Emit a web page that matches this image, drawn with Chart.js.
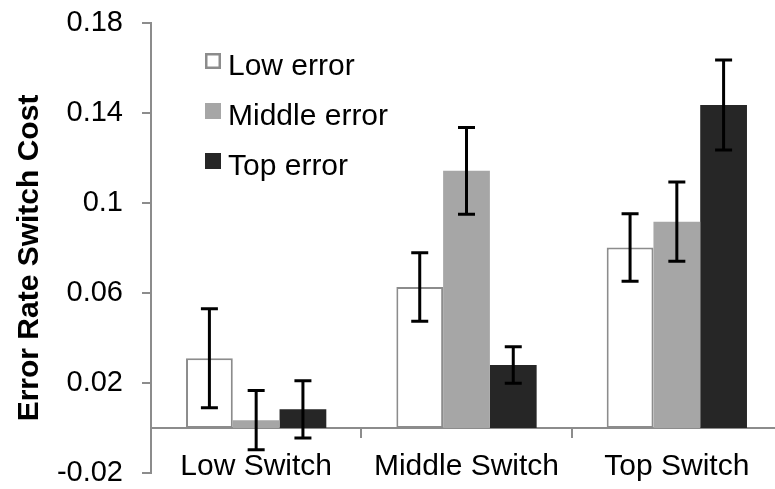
<!DOCTYPE html>
<html>
<head>
<meta charset="utf-8">
<script src="https://cdn.jsdelivr.net/npm/chart.js@4/dist/chart.umd.min.js"></script>
<style>
  html, body { margin: 0; padding: 0; background: #fff; overflow: hidden; }
  canvas { display: block; }
</style>
</head>
<body>
<canvas id="chart" width="790" height="489"></canvas>
<script>
// Error-rate switch cost by switch level and error level (means with error bars)
const categories = ['Low Switch', 'Middle Switch', 'Top Switch'];
const seriesNames = ['Low error', 'Middle error', 'Top error'];

const lowError = [0.0310, 0.0627, 0.0802];
const middleError = [0.0035, 0.1143, 0.0917];
const topError = [0.0083, 0.0280, 0.1436];

const lowErrorBar = [0.0220, 0.0152, 0.0150];
const middleErrorBar = [0.0132, 0.0193, 0.0176];
const topErrorBar = [0.0127, 0.0081, 0.0200];

const yTicks = [-0.02, 0.02, 0.06, 0.1, 0.14, 0.18];

const AXIS_GREY = '#8c8c8c';
const FONT = '"Liberation Sans", Arial, sans-serif';

// Whiskers drawn on top of each bar, through the value scale
const errorBars = {
  id: 'errorBars',
  afterDatasetsDraw(chart) {
    const ctx = chart.ctx;
    const y = chart.scales.y;
    ctx.save();
    ctx.strokeStyle = '#000';
    ctx.lineWidth = 3;
    chart.data.datasets.forEach((ds, i) => {
      const meta = chart.getDatasetMeta(i);
      meta.data.forEach((bar, j) => {
        const v = ds.data[j], e = ds.errors[j];
        const yt = y.getPixelForValue(v + e);
        const yb = y.getPixelForValue(v - e);
        const x = bar.x, cap = 8.5;
        ctx.beginPath();
        ctx.moveTo(x, yt); ctx.lineTo(x, yb);
        ctx.moveTo(x - cap, yt); ctx.lineTo(x + cap, yt);
        ctx.moveTo(x - cap, yb); ctx.lineTo(x + cap, yb);
        ctx.stroke();
      });
    });
    ctx.restore();
  }
};

// Legend set inside the plot, one row per series
const insideLegend = {
  id: 'insideLegend',
  afterDraw(chart) {
    const ctx = chart.ctx;
    const left = chart.chartArea.left + 54;
    const box = 16;
    ctx.save();
    ctx.font = '30px ' + FONT;
    ctx.textBaseline = 'alphabetic';
    ctx.textAlign = 'left';
    chart.data.datasets.forEach((ds, i) => {
      const top = 53 + i * 50;
      ctx.fillStyle = ds.backgroundColor;
      ctx.fillRect(left, top, box, box);
      if (ds.borderWidth) {
        ctx.strokeStyle = ds.borderColor;
        ctx.lineWidth = 2.5;
        ctx.strokeRect(left + 1.25, top + 1.25, box - 2.5, box - 2.5);
      }
      ctx.fillStyle = '#000';
      ctx.fillText(ds.label, left + 23, top + 22);
    });
    ctx.restore();
  }
};

// Rotated value-axis title
const yTitle = {
  id: 'yTitle',
  afterDraw(chart) {
    const ctx = chart.ctx;
    ctx.save();
    ctx.translate(30, 258);
    ctx.rotate(-Math.PI / 2);
    ctx.font = 'bold 30px ' + FONT;
    ctx.fillStyle = '#000';
    ctx.textAlign = 'center';
    ctx.textBaseline = 'middle';
    ctx.fillText('Error Rate Switch Cost', 0, 0);
    ctx.restore();
  }
};

new Chart(document.getElementById('chart'), {
  type: 'bar',
  data: {
    labels: categories,
    datasets: [
      { label: seriesNames[0], data: lowError, errors: lowErrorBar,
        backgroundColor: '#ffffff', borderColor: AXIS_GREY, borderWidth: 2, borderSkipped: false },
      { label: seriesNames[1], data: middleError, errors: middleErrorBar,
        backgroundColor: '#a6a6a6', borderWidth: 0 },
      { label: seriesNames[2], data: topError, errors: topErrorBar,
        backgroundColor: '#262626', borderWidth: 0 }
    ]
  },
  options: {
    responsive: false,
    animation: false,
    layout: { padding: { left: 0, right: 8, top: 23, bottom: 16 } },
    datasets: { bar: { barPercentage: 1, categoryPercentage: 0.667 } },
    plugins: { legend: { display: false }, tooltip: { enabled: false } },
    scales: {
      x: {
        position: { y: 0 },
        grid: { display: true, drawOnChartArea: false, drawTicks: true, tickLength: 9,
                color: AXIS_GREY, lineWidth: 2, offset: true },
        border: { display: true, color: AXIS_GREY, width: 2 },
        ticks: { color: '#000', font: { family: FONT, size: 30, lineHeight: 1 }, padding: 15 }
      },
      y: {
        min: -0.02, max: 0.18,
        afterBuildTicks(scale) { scale.ticks = yTicks.map(v => ({ value: v })); },
        afterFit(scale) {
          scale.width = 151;
          scale.paddingTop = 0;
          scale.paddingBottom = 0;
        },
        grid: { display: true, drawOnChartArea: false, drawTicks: true, tickLength: 9,
                color: AXIS_GREY, lineWidth: 2 },
        border: { display: true, color: AXIS_GREY, width: 2 },
        ticks: {
          color: '#000', padding: 19,
          font: { family: FONT, size: 29, lineHeight: 1 },
          callback: v => String(Number(v.toFixed(2)))
        }
      }
    }
  },
  plugins: [errorBars, insideLegend, yTitle]
});
</script>
</body>
</html>
